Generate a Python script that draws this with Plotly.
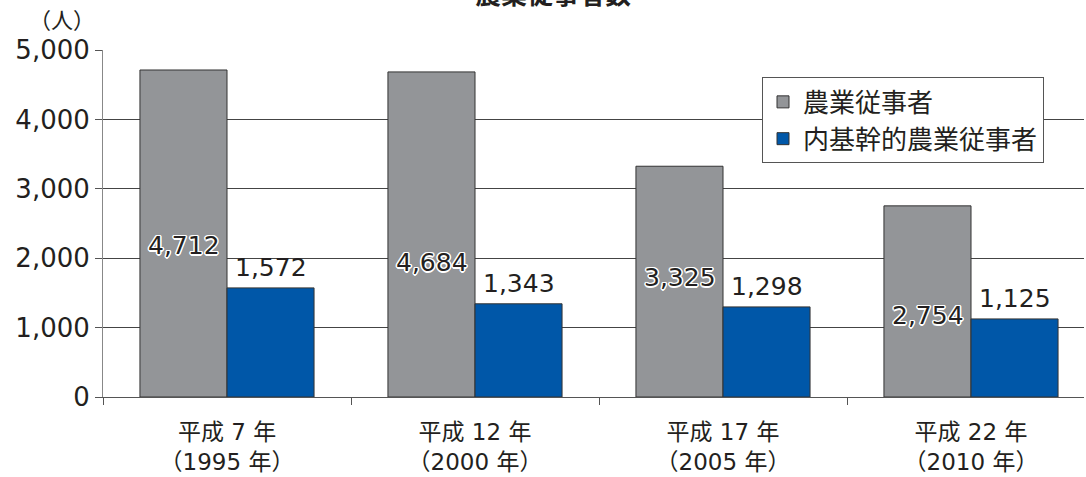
import plotly.graph_objects as go

# 農業従事者数（人）
years = ["平成 7 年<br>（1995 年）", "平成 12 年<br>（2000 年）",
         "平成 17 年<br>（2005 年）", "平成 22 年<br>（2010 年）"]
farm_workers = [4712, 4684, 3325, 2754]
core_workers = [1572, 1343, 1298, 1125]

# height (in axis units) at which each grey-bar value label sits
gray_label_at = [2190, 1945, 1725, 1180]

FONT = "DejaVu Sans, Noto Sans CJK JP, sans-serif"
CJK = "Noto Sans CJK JP, sans-serif"
INK = "#231f20"
GRAY = "#939598"
BLUE = "#0057a8"
HALO = ("white 1.5px 0 0, white -1.5px 0 0, white 0 1.5px 0, white 0 -1.5px 0, "
        "white 1px 1px 0, white -1px -1px 0, white 1px -1px 0, white -1px 1px 0")

fig = go.Figure()
fig.add_trace(go.Bar(
    name="農業従事者", x=years, y=farm_workers,
    marker=dict(color=GRAY, line=dict(color="#333333", width=1)),
))
fig.add_trace(go.Bar(
    name="内基幹的農業従事者", x=years, y=core_workers,
    marker=dict(color=BLUE, line=dict(color="#333333", width=1)),
))

annotations = []
for i, (v, yl) in enumerate(zip(farm_workers, gray_label_at)):
    annotations.append(dict(
        x=i, y=yl, xref="x", yref="y", xshift=-43.5,
        text=f"{v:,}", showarrow=False, yanchor="middle", xanchor="center",
        font=dict(family=FONT, size=25, color=INK, shadow=HALO),
    ))
for i, v in enumerate(core_workers):
    annotations.append(dict(
        x=i, y=v, xref="x", yref="y", xshift=43.5, yshift=4,
        text=f"{v:,}", showarrow=False, yanchor="bottom", xanchor="center",
        font=dict(family=FONT, size=25, color=INK),
    ))
annotations.append(dict(
    x=-41 / 981, y=1 + 32 / 347.5, xref="paper", yref="paper",
    text="（人）", showarrow=False, xanchor="center", yanchor="middle",
    font=dict(family=CJK, size=22, color=INK),
))

fig.update_layout(
    width=1086, height=477,
    margin=dict(l=103, r=2, t=50, b=80),
    paper_bgcolor="white", plot_bgcolor="white",
    barmode="group", bargap=0.298, bargroupgap=0,
    title=dict(text="<b>農業従事者数</b>", x=553 / 1086, xref="container",
               y=0.992, yref="container", xanchor="center", yanchor="bottom",
               font=dict(family=CJK, size=26, color=INK)),
    font=dict(family=FONT, color=INK),
    annotations=annotations,
    legend=dict(
        x=659 / 981, y=1 - 27.5 / 347.5, xanchor="left", yanchor="top",
        bgcolor="white", bordercolor="#555555", borderwidth=1,
        font=dict(family=CJK, size=26, color=INK),
        itemwidth=30,
    ),
    xaxis=dict(
        type="category", range=[-0.5, 3.5 - 11 / 248],
        tickson="boundaries", ticks="outside", ticklen=7, tickcolor="#555555",
        showline=True, linecolor="#555555", linewidth=1,
        tickfont=dict(family=FONT, size=23, color=INK),
        ticklabelstandoff=14,
        showgrid=False,
    ),
    yaxis=dict(
        range=[0, 5000], dtick=1000, tickformat=",",
        ticks="outside", ticklen=7, tickcolor="#555555",
        showline=True, linecolor="#888888", linewidth=1,
        showgrid=True, gridcolor="#444444", gridwidth=1,
        zeroline=False,
        tickfont=dict(family=FONT, size=26, color=INK),
    ),
)

fig.write_html("out.html")
